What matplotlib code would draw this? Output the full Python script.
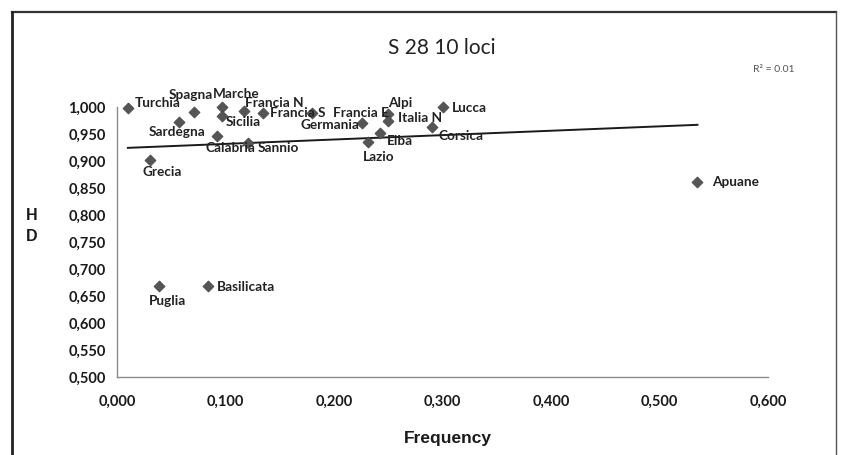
import numpy as np
import matplotlib
matplotlib.use("Agg")
import matplotlib.pyplot as plt
from matplotlib.lines import Line2D

# ---- data ----
names = ["Turchia", "Spagna", "Marche", "Sicilia", "Francia N", "Francia S",
         "Francia E", "Sardegna", "Calabria", "Sannio", "Grecia", "Germania",
         "Alpi", "Italia N", "Lucca", "Corsica", "Elba", "Lazio", "Puglia",
         "Basilicata", "Apuane"]
freq = [0.010, 0.071, 0.097, 0.097, 0.117, 0.135,
        0.180, 0.057, 0.092, 0.121, 0.030, 0.226,
        0.250, 0.250, 0.300, 0.290, 0.242, 0.231, 0.039,
        0.084, 0.535]
hd = [0.998, 0.991, 1.000, 0.983, 0.993, 0.989,
      0.989, 0.972, 0.946, 0.933, 0.901, 0.970,
      0.987, 0.974, 1.000, 0.963, 0.952, 0.935, 0.669,
      0.669, 0.861]
xticks = [0.0, 0.1, 0.2, 0.3, 0.4, 0.5, 0.6]
xticklabels = ["0,000", "0,100", "0,200", "0,300", "0,400", "0,500", "0,600"]
yticks = [0.50, 0.55, 0.60, 0.65, 0.70, 0.75, 0.80, 0.85, 0.90, 0.95, 1.00]
yticklabels = ["0,500", "0,550", "0,600", "0,650", "0,700", "0,750",
               "0,800", "0,850", "0,900", "0,950", "1,000"]
title = "S 28 10 loci"
r2_text = "R² = 0.01"

# label placement (pixel offsets, alignment)
label_pos = {
    "Turchia": (7, 5, "left"), "Spagna": (-3, 17, "center"),
    "Marche": (14, 13, "center"), "Sicilia": (3, -6, "left"),
    "Francia N": (30, 8, "center"), "Francia S": (7, 0, "left"),
    "Francia E": (21, 0, "left"), "Sardegna": (-2, -10, "center"),
    "Calabria": (14, -12, "center"), "Sannio": (9, -5, "left"),
    "Grecia": (13, -12, "center"), "Germania": (-3, -2, "right"),
    "Alpi": (12, 11, "center"), "Italia N": (10, 3, "left"),
    "Lucca": (9, -1, "left"), "Corsica": (7, -9, "left"),
    "Elba": (7, -8, "left"), "Lazio": (11, -15, "center"),
    "Puglia": (8, -15, "center"), "Basilicata": (9, -1, "left"),
    "Apuane": (15, 0, "left"),
}

W, H = 842, 455
fig = plt.figure(figsize=(W / 100, H / 100), dpi=100)
fig.patch.set_facecolor("white")

ax = fig.add_axes([117 / W, 1 - 377 / H, (768 - 117) / W, (377 - 107) / H])
ax.set_xlim(0, 0.6)
ax.set_ylim(0.5, 1.0)

# trendline (linear least squares)
x = np.array(freq)
y = np.array(hd)
b, a = np.polyfit(x, y, 1)
xl = np.array([x.min(), x.max()])
ax.plot(xl, a + b * xl, color="#1a1a1a", lw=1.4, zorder=2)

ax.scatter(freq, hd, marker="D", s=32, color="#555555", edgecolors="#444444",
           linewidths=0.5, zorder=3, clip_on=False)

lab_font = dict(family="Lato", fontsize=9.8, fontweight="bold", color="#222222")
for n, xv, yv in zip(names, freq, hd):
    dx, dy, ha = label_pos[n]
    ax.annotate(n, (xv, yv), xytext=(dx, dy), textcoords="offset pixels",
                ha=ha, va="center", zorder=4, annotation_clip=False, **lab_font)

ax.set_xticks(xticks)
ax.set_xticklabels(xticklabels)
ax.set_yticks(yticks)
ax.set_yticklabels(yticklabels)
ax.tick_params(length=0)
ax.tick_params(axis="x", pad=13)
ax.tick_params(axis="y", pad=8)
for lbl in ax.get_xticklabels() + ax.get_yticklabels():
    lbl.set_fontfamily("Lato")
    lbl.set_fontsize(10.5)
    lbl.set_fontweight("bold")
    lbl.set_color("#1a1a1a")

for s in ["top", "right"]:
    ax.spines[s].set_visible(False)
for s in ["left", "bottom"]:
    ax.spines[s].set_color("#8a8a8a")
    ax.spines[s].set_linewidth(1.0)

# titles
fig.text(442 / W, 1 - 48 / H, title, ha="center", va="center",
         family="Lato", fontsize=15, color="#222222")
fig.text(774 / W, 1 - 69 / H, r2_text, ha="center", va="center",
         family="Lato", fontsize=7.5, color="#555555")
fig.text(448 / W, 1 - 438 / H, "Frequency", ha="center", va="center",
         family="Liberation Sans", fontsize=12.5, fontweight="bold", color="#1a1a1a")
fig.text(32 / W, 1 - 216 / H, "H", ha="center", va="center",
         family="Liberation Sans", fontsize=11.5, fontweight="bold", color="#1a1a1a")
fig.text(32 / W, 1 - 236 / H, "D", ha="center", va="center",
         family="Liberation Sans", fontsize=11.5, fontweight="bold", color="#1a1a1a")

# outer frame
fx0, fx1, fy0 = 12 / W, 836 / W, 1 - 12 / H
fig.add_artist(Line2D([fx0, fx1], [fy0, fy0], color="#333333", lw=1.6))
fig.add_artist(Line2D([fx0, fx0], [fy0, 0], color="#222222", lw=2.0))
fig.add_artist(Line2D([fx1, fx1], [fy0, 0], color="#555555", lw=1.0))

fig.savefig("out.png", dpi=100, facecolor="white")
